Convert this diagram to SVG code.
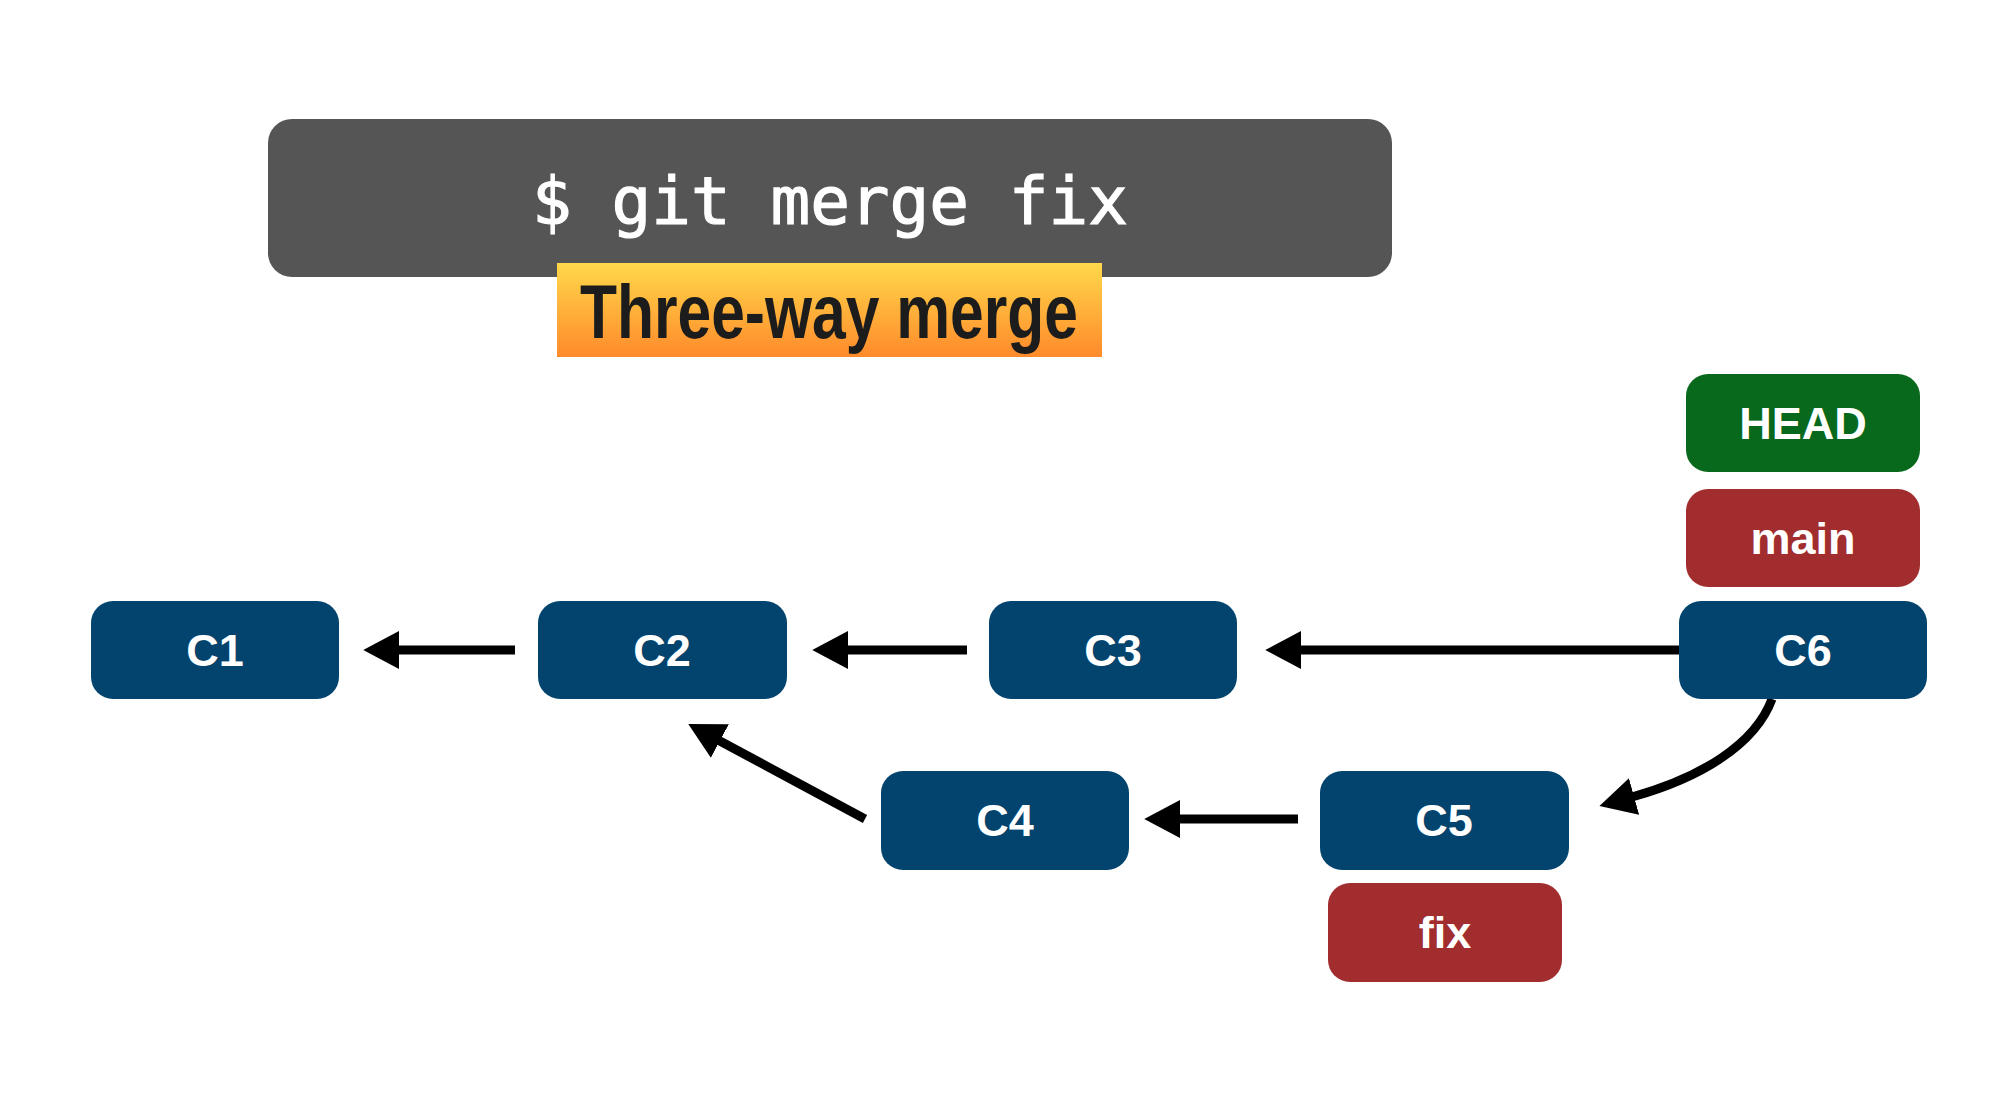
<svg xmlns="http://www.w3.org/2000/svg" width="2000" height="1120" viewBox="0 0 2000 1120">
<defs>
<linearGradient id="og" x1="0" y1="0" x2="0" y2="1">
<stop offset="0" stop-color="#ffd84a"/>
<stop offset="1" stop-color="#ff8a2b"/>
</linearGradient>
<marker id="ah" markerUnits="userSpaceOnUse" markerWidth="38" markerHeight="38" refX="2" refY="18" orient="auto" viewBox="0 0 36 36">
<path d="M0,0 L34,18 L0,36 Z" fill="#000"/>
</marker>
<style>
.commit rect{fill:#03446f}
.head rect{fill:#08691d}
.branch rect{fill:#a12d2e}
.lbl{font-family:"Liberation Sans",Arial,sans-serif;font-weight:bold;font-size:45px;fill:#fff;text-anchor:middle}
.conn{fill:none;stroke:#000;stroke-width:9;marker-end:url(#ah)}
</style>
</defs>
<rect width="2000" height="1120" fill="#fff"/>
<g id="command">
<rect x="268" y="119" width="1124" height="158" rx="24" fill="#555555"/>
<text x="830" y="224" font-family="'DejaVu Sans Mono','Liberation Mono',monospace" font-size="66" fill="#fff" stroke="#fff" stroke-width="1.2" text-anchor="middle">$ git merge fix</text>
</g>
<g id="title">
<rect x="557" y="263" width="545" height="94" fill="url(#og)"/>
<text x="580" y="338" font-family="'Liberation Sans',Arial,sans-serif" font-weight="bold" font-size="76" fill="#1c1c1c" textLength="498" lengthAdjust="spacingAndGlyphs">Three-way merge</text>
</g>
<g id="connectors">
<path class="conn" d="M515,650 H397"/>
<path class="conn" d="M967,650 H846"/>
<path class="conn" d="M1679,650 H1299"/>
<path class="conn" d="M1298,819 H1178"/>
<path class="conn" d="M865,819 L718,740"/>
<path class="conn" d="M1772,699 C1755,745 1700,778 1632,797"/>
</g>
<g id="C1" class="commit"><rect x="91" y="601" width="248" height="98" rx="22"/><text class="lbl" x="215" y="666">C1</text></g>
<g id="C2" class="commit"><rect x="538" y="601" width="249" height="98" rx="22"/><text class="lbl" x="662" y="666">C2</text></g>
<g id="C3" class="commit"><rect x="989" y="601" width="248" height="98" rx="22"/><text class="lbl" x="1113" y="666">C3</text></g>
<g id="C6" class="commit"><rect x="1679" y="601" width="248" height="98" rx="22"/><text class="lbl" x="1803" y="666">C6</text></g>
<g id="C4" class="commit"><rect x="881" y="771" width="248" height="99" rx="22"/><text class="lbl" x="1005" y="836">C4</text></g>
<g id="C5" class="commit"><rect x="1320" y="771" width="249" height="99" rx="22"/><text class="lbl" x="1444" y="836">C5</text></g>
<g id="HEAD" class="head"><rect x="1686" y="374" width="234" height="98" rx="22"/><text class="lbl" x="1803" y="439">HEAD</text></g>
<g id="main" class="branch"><rect x="1686" y="489" width="234" height="98" rx="22"/><text class="lbl" x="1803" y="554">main</text></g>
<g id="fix" class="branch"><rect x="1328" y="883" width="234" height="99" rx="22"/><text class="lbl" x="1445" y="948">fix</text></g>
</svg>
